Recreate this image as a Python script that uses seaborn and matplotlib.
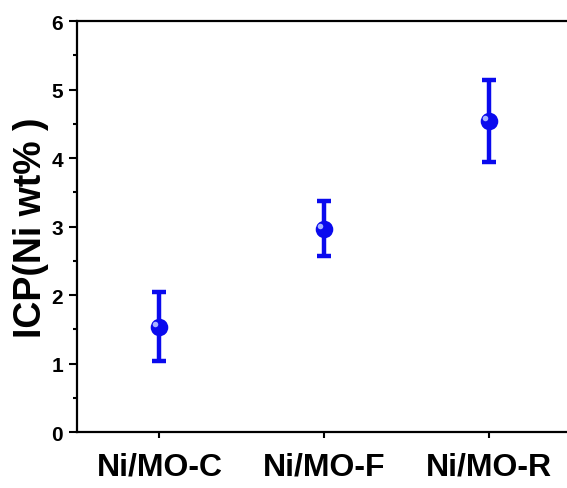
import matplotlib
matplotlib.use('Agg')
import matplotlib.pyplot as plt
import numpy as np
import pandas as pd
import seaborn as sns
from matplotlib.ticker import MultipleLocator

samples = ['Ni/MO-C', 'Ni/MO-F', 'Ni/MO-R']
ni_wt = [1.54, 2.97, 4.54]
ni_err = [0.51, 0.40, 0.60]

df = pd.DataFrame({'sample': samples, 'ni': ni_wt, 'err': ni_err})
df['pos'] = np.arange(len(df))

sns.set_style('ticks')
plt.rcParams['font.family'] = ['Liberation Sans', 'DejaVu Sans']
plt.rcParams['font.weight'] = 'bold'
plt.rcParams['text.color'] = 'black'
plt.rcParams['xtick.color'] = 'black'
plt.rcParams['ytick.color'] = 'black'
plt.rcParams['axes.labelcolor'] = 'black'

fig = plt.figure(figsize=(5.67, 4.89), dpi=100)
ax = fig.add_axes([0.136, 0.1145, 0.871, 0.8405])

blue = '#0a0aee'
ax.errorbar(df['pos'], df['ni'], yerr=df['err'], fmt='none',
            ecolor=blue, elinewidth=3.2, capsize=5, capthick=3.2, zorder=2)
sns.scatterplot(data=df, x='pos', y='ni', ax=ax, color=blue, s=160,
                edgecolor=blue, linewidth=0, zorder=3, legend=False)
# small highlight so the marker reads like the shaded sphere
ax.scatter(df['pos'] - 0.025, df['ni'] + 0.04, s=16, color='#a8b4ff',
           linewidth=0, zorder=4)

ax.set_xlim(-0.5, 2.5)
ax.set_ylim(0, 6)
ax.set_xticks(df['pos'])
ax.set_xticklabels(samples, fontsize=23, fontweight='bold')
ax.yaxis.set_major_locator(MultipleLocator(1))
ax.yaxis.set_minor_locator(MultipleLocator(0.5))
for lab in ax.get_yticklabels():
    lab.set_fontsize(15)
    lab.set_fontweight('bold')
ax.set_xlabel('')
ax.set_ylabel('ICP(Ni wt% )', fontsize=27, fontweight='bold', labelpad=2)

ax.tick_params(axis='y', which='major', direction='out', length=6, width=1.5, pad=4)
ax.tick_params(axis='y', which='minor', direction='out', length=3, width=1.5)
ax.tick_params(axis='x', which='major', direction='out', length=4, width=1.5, pad=10)
for s in ax.spines.values():
    s.set_linewidth(1.6)
    s.set_color('black')

fig.savefig('out.png', dpi=100)
